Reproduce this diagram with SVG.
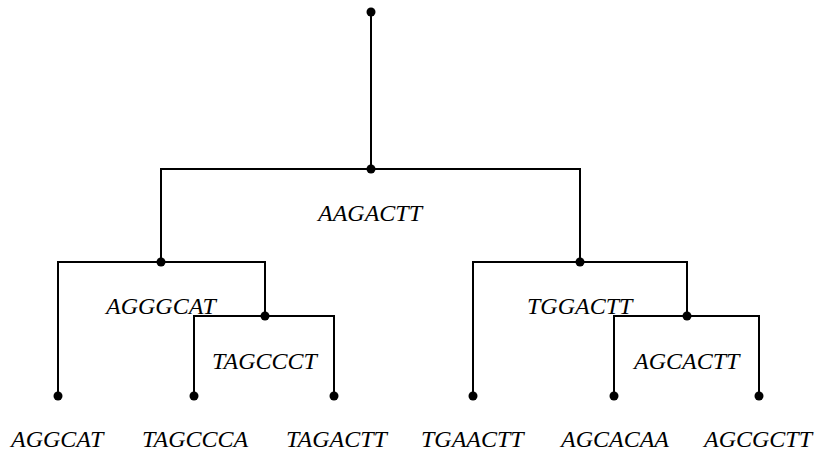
<svg xmlns="http://www.w3.org/2000/svg" width="815" height="453" viewBox="0 0 815 453">
<style>
.e{fill:none;stroke:#000;stroke-width:2}
.d{fill:#000}
.t{font-family:"Liberation Serif","Times New Roman",serif;font-style:italic;font-size:24px;fill:#000}
</style>
<rect width="815" height="453" fill="#fff"/>
<g id="connectors">
<path class="e" d="M371,12V169M161,262V169H580V262"/>
<path class="e" d="M58,396V262H265V316M194,396V316H334V396"/>
<path class="e" d="M473,396V262H687V316M614,396V316H759V396"/>
</g>
<g id="root"><circle class="d" cx="371" cy="12" r="4.5"/></g>
<g id="n_AAGACTT"><circle class="d" cx="371" cy="169" r="4.5"/><text class="t" x="318" y="221">AAGACTT</text></g>
<g id="n_AGGGCAT"><circle class="d" cx="161" cy="262" r="4.5"/><text class="t" x="106" y="314">AGGGCAT</text></g>
<g id="n_TAGCCCT"><circle class="d" cx="265" cy="316" r="4.5"/><text class="t" x="212" y="369">TAGCCCT</text></g>
<g id="n_TGGACTT"><circle class="d" cx="580" cy="262" r="4.5"/><text class="t" x="527" y="314">TGGACTT</text></g>
<g id="n_AGCACTT"><circle class="d" cx="687" cy="316" r="4.5"/><text class="t" x="634" y="369">AGCACTT</text></g>
<g id="l_AGGCAT"><circle class="d" cx="58" cy="396" r="4.5"/><text class="t" x="11" y="447">AGGCAT</text></g>
<g id="l_TAGCCCA"><circle class="d" cx="194" cy="396" r="4.5"/><text class="t" x="142" y="447">TAGCCCA</text></g>
<g id="l_TAGACTT"><circle class="d" cx="334" cy="396" r="4.5"/><text class="t" x="286" y="447">TAGACTT</text></g>
<g id="l_TGAACTT"><circle class="d" cx="473" cy="396" r="4.5"/><text class="t" x="421" y="447">TGAACTT</text></g>
<g id="l_AGCACAA"><circle class="d" cx="614" cy="396" r="4.5"/><text class="t" x="561" y="447">AGCACAA</text></g>
<g id="l_AGCGCTT"><circle class="d" cx="759" cy="396" r="4.5"/><text class="t" x="704" y="447">AGCGCTT</text></g>
</svg>
